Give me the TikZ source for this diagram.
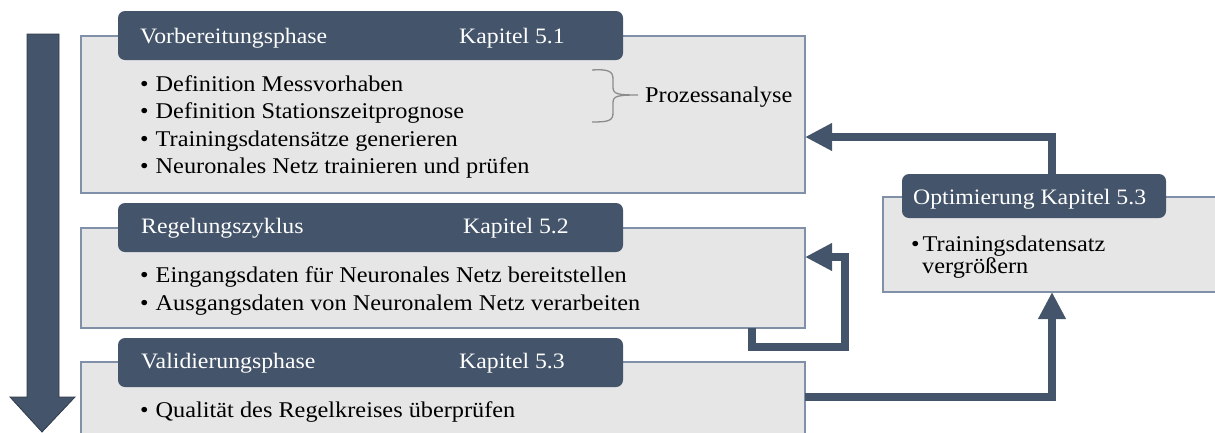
\documentclass[tikz,border=0pt]{standalone}
\usepackage{fontspec}
\setmainfont{Liberation Serif}[FakeStretch=1.08]
\usetikzlibrary{arrows.meta}
\definecolor{headblue}{HTML}{44546A}
\definecolor{panelgray}{HTML}{E6E6E6}
\definecolor{panelline}{HTML}{8090A8}
\definecolor{bracegray}{HTML}{8C8C8C}
\definecolor{arrowedge}{HTML}{2F3B4A}

\begin{document}
\begin{tikzpicture}[x=1pt,y=-1pt,
  panel/.style={draw=panelline, line width=1.2pt, fill=panelgray, anchor=north west,
    inner sep=0pt, outer sep=0pt},
  header/.style={fill=headblue, rounded corners=7pt, anchor=north west,
    inner sep=0pt, outer sep=0pt},
  htext/.style={text=white, anchor=base west, inner sep=0pt,
    font=\fontsize{22}{26}\selectfont},
  btext/.style={text=black, anchor=base west, inner sep=0pt,
    font=\fontsize{22.5}{27}\selectfont},
  conn/.style={draw=headblue, line width=8.5pt,
    -{Triangle[length=27pt,width=26pt]}},
]
\useasboundingbox (0,0) rectangle (1215,432);
\clip (0,0) rectangle (1215,432);

% phase direction arrow
\filldraw[fill=headblue, draw=arrowedge, line width=0.8pt]
  (27,34) -- (59,34) -- (59,397) -- (75,397) -- (42,432) -- (10,397) -- (27,397) -- cycle;

% panels
\node[panel, minimum width=724pt, minimum height=157pt] (p1) at (81,36) {};
\node[panel, minimum width=724pt, minimum height=100pt] (p2) at (81,228) {};
\node[panel, minimum width=724pt, minimum height=90pt]  (p3) at (81,362) {};
\node[panel, minimum width=345pt, minimum height=95pt]  (p4) at (883,197) {};

% headers
\node[header, minimum width=505pt, minimum height=49pt] (h1) at (118,11) {};
\node[header, minimum width=505pt, minimum height=49pt] (h2) at (118,203) {};
\node[header, minimum width=505pt, minimum height=49pt] (h3) at (118,338) {};
\node[header, minimum width=264pt, minimum height=44pt] (h4) at (902,174) {};

\node[htext] (h1t) at (140,43)  {Vorbereitungsphase};
\node[htext] (h1k) at (459,43)  {Kapitel 5.1};
\node[htext] (h2t) at (141,233) {Regelungszyklus};
\node[htext] (h2k) at (463,233) {Kapitel 5.2};
\node[htext] (h3t) at (141,368) {Validierungsphase};
\node[htext] (h3k) at (459,368) {Kapitel 5.3};
\node[htext] (h4t) at (913,204) {Optimierung Kapitel 5.3};

% panel contents
\node[btext] (l11) at (140,91)  {\textbullet\hspace{7pt}Definition Messvorhaben};
\node[btext] (l12) at (140,118) {\textbullet\hspace{7pt}Definition Stationszeitprognose};
\node[btext] (l13) at (140,146) {\textbullet\hspace{7pt}Trainingsdatensätze generieren};
\node[btext] (l14) at (140,173) {\textbullet\hspace{7pt}Neuronales Netz trainieren und prüfen};
\node[btext] (l21) at (140,282) {\textbullet\hspace{7pt}Eingangsdaten für Neuronales Netz bereitstellen};
\node[btext] (l22) at (140,310) {\textbullet\hspace{7pt}Ausgangsdaten von Neuronalem Netz verarbeiten};
\node[btext] (l31) at (140,417) {\textbullet\hspace{7pt}Qualität des Regelkreises überprüfen};
\node[btext] (l41) at (911,251) {\textbullet\hspace{3pt}Trainingsdatensatz};
\node[btext] (l42) at (922,273) {vergrößern};

% brace grouping the first two items
\draw[bracegray, line width=1.3pt]
  (592,70) .. controls (608,69) and (613,71) .. (613,79) -- (613,87)
  .. controls (613,94) and (617,95) .. (638,95)
  .. controls (617,95) and (613,96) .. (613,103) -- (613,113)
  .. controls (613,121) and (608,122) .. (592,122);
\node[btext, anchor=base west] (pa) at (645,102) {Prozessanalyse};

% connectors
\coordinate (j1) at (1052,137);
\draw[conn] (j1 |- h4.north) -- (j1) -- (j1 -| p1.east);

\coordinate (l1) at (752,347);
\coordinate (l2) at (845,257);
\draw[conn] (l1 |- p2.south) -- (l1) -- (l1 -| l2) -- (l2) -- (l2 -| p2.east);

\coordinate (v1) at (1052,397);
\draw[conn] (v1 -| p3.east) -- (v1) -- (v1 |- p4.south);
\end{tikzpicture}
\end{document}
